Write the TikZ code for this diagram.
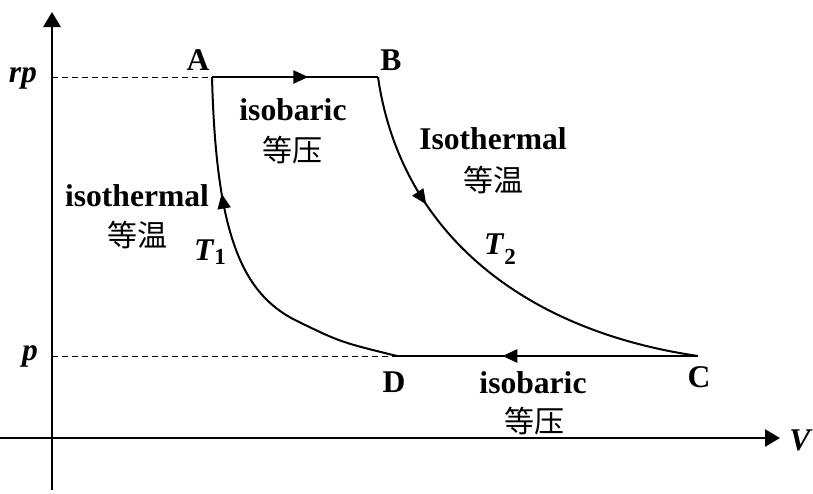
\documentclass[tikz,border=0pt]{standalone}
\usepackage{fontspec}
\setmainfont{Liberation Serif}
\newfontfamily\cjk{Noto Sans CJK SC}
\usetikzlibrary{arrows.meta,decorations.markings}

\begin{document}
\begin{tikzpicture}[
  x=0.5pt, y=-0.5pt,
  every node/.style={font=\fontsize{15.8}{18}\selectfont\bfseries, inner sep=0pt},
  cn/.style={font=\fontsize{15}{18}\selectfont\cjk},
  axis/.style={line width=1.3pt, -{Triangle[length=7.5pt,width=8.5pt]}},
  guide/.style={line width=0.5pt, dash pattern=on 3pt off 2pt},
  proc/.style={line width=1.3pt},
  curve/.style={line width=1pt},
  midarrow/.style={postaction={decorate}, decoration={markings,
    mark=at position #1 with {\arrow{Triangle[length=7.5pt,width=6.5pt]}}}}
]
\useasboundingbox (0,0) rectangle (813,493);

% axes
\coordinate (Xstart) at (0,438);
\coordinate (Vend) at (780,438);
\coordinate (Pbot) at (52,490);
\coordinate (Ptop) at (52,12);
\draw[axis] (Xstart) -- (Vend);
\draw[axis] (Pbot) -- (Ptop);

% states
\coordinate (A) at (212,77);
\coordinate (B) at (378,77);
\coordinate (C) at (698,356);
\coordinate (D) at (397,356);
\coordinate (knee) at (295,320);
\coordinate (rpA) at (52,77);
\coordinate (pD) at (52,356);

\draw[guide] (rpA) -- (A);
\draw[guide] (pD) -- (D);

\draw[proc, midarrow=0.58] (A) -- (B);
\draw[proc, midarrow=0.65] (C) -- (D);
\draw[curve, midarrow=0.3] (B) .. controls (400,230) and (520,330) .. (C);
\draw[curve, midarrow=0.69] (D) .. controls (340,342) .. (knee)
  .. controls (240,292) and (216,230) .. (A);

% labels
\node (lA) at (198,60) {A};
\node (lB) at (391,60) {B};
\node (lC) at (699,377) {C};
\node (lD) at (394,382) {D};
\node (lrp) at (23,78) {\textit{rp}};
\node (lp) at (30,356) {\textit{p}};
\node (lV) at (801,440) {\textit{V}};

\node (isoAB) at (293,110) {isobaric};
\node[cn] (isoABcn) at (292,150) {等压};
\node (isoDA) at (137,196) {isothermal};
\node[cn] (isoDAcn) at (137,235) {等温};
\node (isoBC) at (493,139) {Isothermal};
\node[cn] (isoBCcn) at (493,180) {等温};
\node (isoCD) at (533,383) {isobaric};
\node[cn] (isoCDcn) at (534,421) {等压};

\node (T1) at (210,252) {\textit{T}\raisebox{-0.25ex}{\fontsize{11.5}{12}\selectfont 1}};
\node (T2) at (500,249) {\textit{T}\raisebox{-0.7ex}{\fontsize{11.5}{12}\selectfont 2}};
\end{tikzpicture}
\end{document}
